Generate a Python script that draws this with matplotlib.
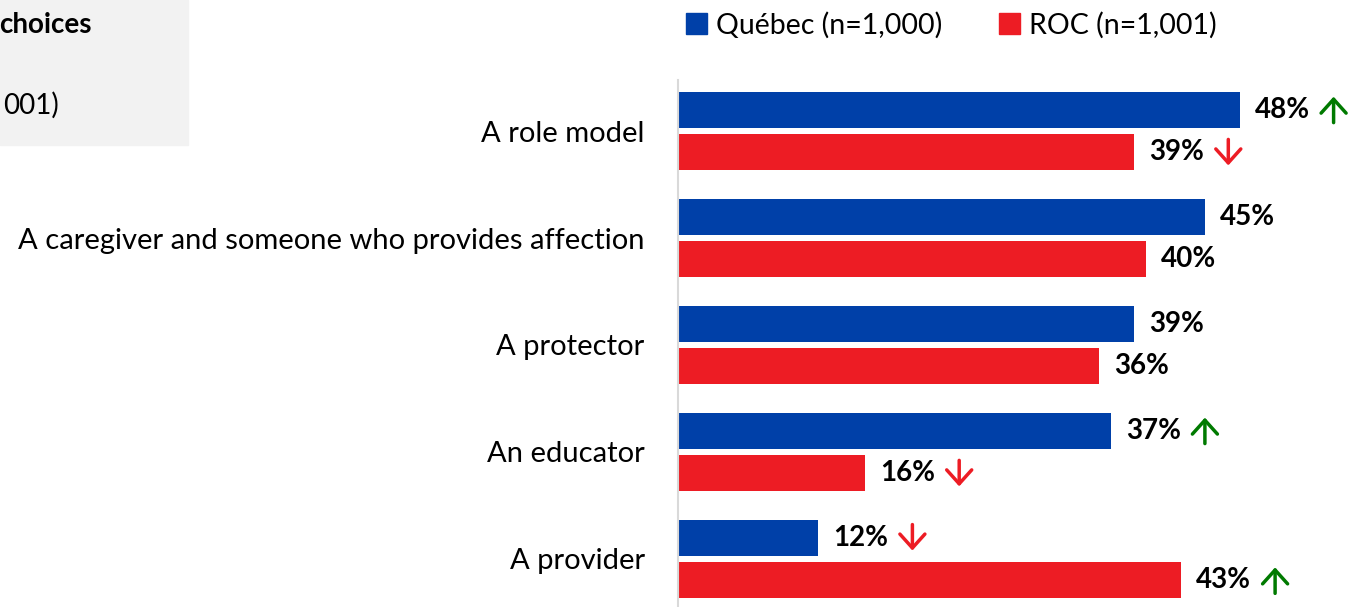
import matplotlib.pyplot as plt
from matplotlib.patches import Rectangle, Patch
from matplotlib.transforms import ScaledTranslation

plt.rcParams['font.family'] = ['Lato', 'DejaVu Sans']

categories = ['A role model', 'A caregiver and someone who provides affection',
              'A protector', 'An educator', 'A provider']
quebec = [48, 45, 39, 37, 12]
roc = [39, 40, 36, 16, 43]
quebec_sig = ['up', '', '', 'up', 'down']
roc_sig = ['down', '', '', 'down', 'up']
series_names = ['Québec (n=1,000)', 'ROC (n=1,001)']

BLUE = '#0040A8'
RED = '#ED1C24'
GREEN = '#007A00'

W, H = 1349, 607
fig = plt.figure(figsize=(W / 100, H / 100), dpi=100)
ax = fig.add_axes([678 / W, 0, 1 - 678 / W, 1 - 80 / H])

y = list(range(len(categories)))
h = 0.336
ax.barh([i - 0.2 for i in y], quebec, height=h, color=BLUE)
ax.barh([i + 0.2 for i in y], roc, height=h, color=RED)

ax.set_xlim(0, (W - 678) / 11.7)
ax.set_ylim(4.449, -0.477)
ax.set_yticks(y)
ax.set_yticklabels(categories, fontsize=21)
ax.tick_params(axis='y', length=0, pad=24)
ax.set_xticks([])
for s in ['top', 'right', 'bottom']:
    ax.spines[s].set_visible(False)
ax.spines['left'].set_color('#d9d9d9')
ax.spines['left'].set_linewidth(1.5)


def shift(dx, dy):
    # offset in pixels from a data point
    return ax.transData + ScaledTranslation(dx / 100, dy / 100, fig.dpi_scale_trans)


def label(vals, sigs, off):
    for i, (v, sg) in enumerate(zip(vals, sigs)):
        ax.annotate(f'{v}%', (v, i + off), xytext=(11, 0), textcoords='offset points',
                    ha='left', va='center', fontsize=20, fontweight='bold')
        if sg:
            col = GREEN if sg == 'up' else RED
            d = 1 if sg == 'up' else -1
            ax.annotate('', xy=(v, i + off), xycoords=shift(94, 13 * d),
                        xytext=(v, i + off), textcoords=shift(94, -13 * d),
                        arrowprops=dict(arrowstyle='->,head_length=0.5,head_width=0.45',
                                        color=col, lw=2.5, mutation_scale=20,
                                        shrinkA=0, shrinkB=0))


label(quebec, quebec_sig, -0.2)
label(roc, roc_sig, 0.2)

handles = [Patch(color=BLUE), Patch(color=RED)]
fig.legend(handles, series_names, loc='center left', bbox_to_anchor=(686 / W, 1 - 25 / H),
           ncol=2, frameon=False, fontsize=20.5, handlelength=0.75, handleheight=0.75,
           handletextpad=0.3, columnspacing=2.0, borderpad=0, borderaxespad=0)

fig.patches.append(Rectangle((0, 1 - 145 / H), 188 / W, 145 / H, transform=fig.transFigure,
                             color='#f2f2f2', zorder=0))
fig.text(92 / W, 1 - 25 / H, 'choices', ha='right', va='center', fontsize=20, fontweight='bold')
fig.text(3 / W, 1 - 105 / H, '001)', ha='left', va='center', fontsize=20)

fig.savefig('out.png', dpi=100)
